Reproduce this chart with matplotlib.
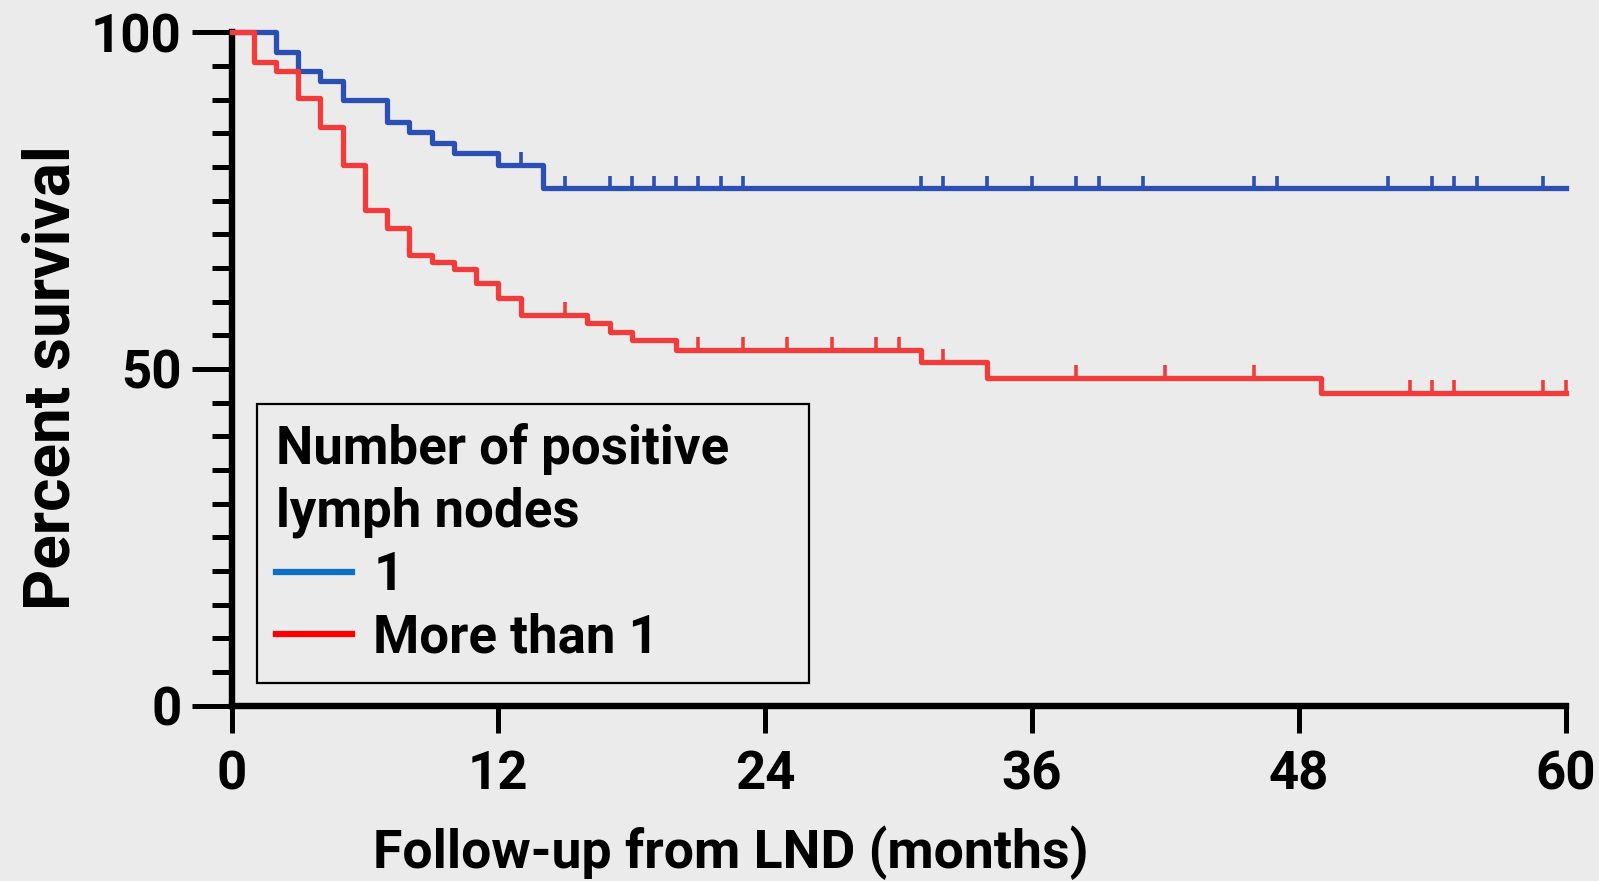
import numpy as np
import matplotlib
matplotlib.use('Agg')
import matplotlib.pyplot as plt
from matplotlib.ticker import MultipleLocator
from matplotlib.lines import Line2D

# Kaplan-Meier steps (months, percent survival)
one_t = [0, 2, 3, 4, 5, 7, 8, 9, 10, 12, 14, 60]
one_s = [100, 97.1, 94.2, 92.7, 89.9, 86.7, 85.2, 83.5, 82.0, 80.3, 76.8, 76.8]
one_cens = [13, 15, 17, 18, 19, 20, 21, 22, 23, 31, 32, 34, 36, 38, 39, 41,
            46, 47, 52, 54, 55, 56, 59]

more_t = [0, 1, 2, 3, 4, 5, 6, 7, 8, 9, 10, 11, 12, 13, 16, 17, 18, 20, 31, 34, 49, 60]
more_s = [100, 95.6, 94.2, 90.3, 85.9, 80.3, 73.6, 70.9, 66.9, 65.9, 64.9, 62.7,
          60.5, 58.0, 56.8, 55.5, 54.3, 52.8, 51.0, 48.7, 46.4, 46.4]
more_cens = [15, 21, 23, 25, 27, 29, 30, 32, 38, 42, 46, 53, 54, 55, 59, 60]

xticks = [0, 12, 24, 36, 48, 60]
yticks = [0, 50, 100]

bg = '#ebebeb'
c_one, c_more = '#2b4fb2', '#f23c3c'
leg_one, leg_more = '#0a6fc8', '#ff0000'

plt.rcParams['font.family'] = ['Roboto', 'DejaVu Sans']
plt.rcParams['font.weight'] = 'bold'
fs = 38


def level_at(t, s, c):
    idx = np.searchsorted(t, c, side='right') - 1
    return np.array(s)[idx]


fig = plt.figure(figsize=(15.99, 8.81), dpi=100, facecolor=bg)
ax = fig.add_axes([0.1448, 0.199, 0.8343, 0.7644], facecolor=bg)

for t, s, cens, col in [(one_t, one_s, one_cens, c_one),
                        (more_t, more_s, more_cens, c_more)]:
    ax.step(t, s, where='post', color=col, lw=3.8, clip_on=False, zorder=3)
    lv = level_at(t, s, np.array(cens))
    ax.vlines(cens, lv, lv + 1.9, color=col, lw=2.6, clip_on=False, zorder=3)

ax.set_xlim(0, 60)
ax.set_ylim(0, 100)
ax.set_xticks(xticks)
ax.set_yticks(yticks)
ax.yaxis.set_minor_locator(MultipleLocator(5))

for side in ['top', 'right']:
    ax.spines[side].set_visible(False)
for side in ['left', 'bottom']:
    ax.spines[side].set_linewidth(4.6)
    ax.spines[side].set_color('black')

ax.tick_params(axis='y', which='major', length=28.8, width=3.6, pad=7,
               labelsize=fs, color='black')
ax.tick_params(axis='y', which='minor', length=14.4, width=3.6, color='black')
ax.tick_params(axis='x', which='major', length=19.4, width=3.6, pad=12,
               labelsize=fs, color='black')

fig.text(731 / 1599, 13 / 881, 'Follow-up from LND (months)', ha='center',
         va='baseline', fontsize=38.5, fontweight='bold')
fig.text(52 / 1599, 1 - 378 / 881, 'Percent survival', rotation=90,
         ha='center', va='center', fontsize=46, fontweight='bold')

handles = [Line2D([], [], color=leg_one, lw=4.5),
           Line2D([], [], color=leg_more, lw=4.5)]
leg = ax.legend(handles, ['1', 'More than 1'],
                title='Number of positive\nlymph nodes',
                loc='upper left', bbox_to_anchor=(0.0189, 0.448, 0.4137, 0.0),
                mode='expand', alignment='left', fontsize=fs,
                title_fontproperties={'size': fs, 'weight': 'bold'},
                frameon=True, fancybox=False, framealpha=1, facecolor=bg,
                edgecolor='black', handlelength=1.45, handletextpad=0.4,
                labelspacing=0.22, borderpad=0.36, borderaxespad=0)
leg.get_title().set_linespacing(1.3)
leg.get_frame().set_linewidth(1.6)

fig.savefig('out.png', dpi=100, facecolor=bg)
